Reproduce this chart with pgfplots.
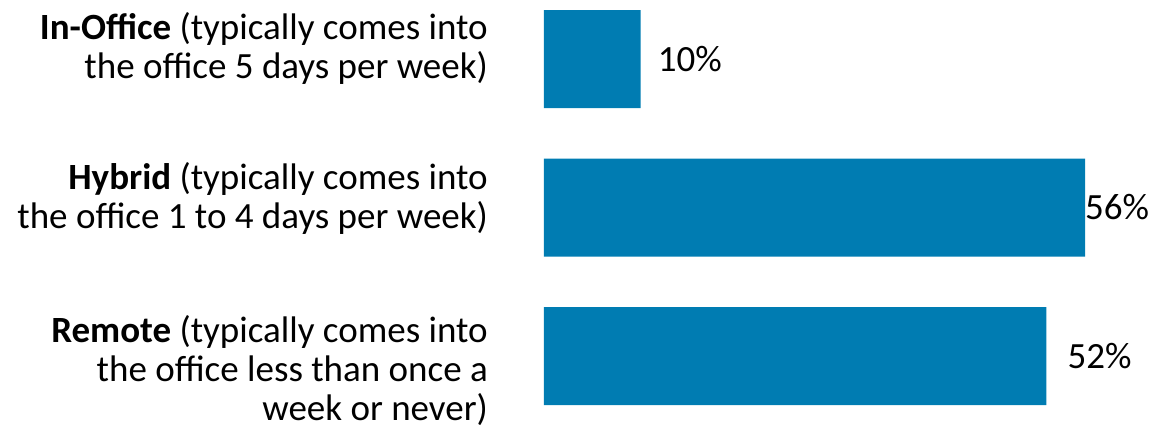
\documentclass[border=0pt]{standalone}
\usepackage{pgfplots}
\pgfplotsset{compat=1.18}
\usepackage{pgfplotstable}
\usepackage{fontspec}
\setmainfont{Carlito}
\definecolor{barblue}{HTML}{007CB2}
\pgfplotstableread{
y val off
0 52 21
1 56 0
2 10 17
}\datatable
\begin{document}
\begin{tikzpicture}
\path[use as bounding box] (0,0) rectangle (1173pt,432pt);
\begin{axis}[
  at={(544pt,31.45pt)}, anchor=south west,
  scale only axis, width=541pt, height=386.1pt,
  xmin=0, xmax=56, ymin=-0.3, ymax=2.3,
  clip=false,
  axis line style={draw=none},
  xtick=\empty,
  xbar, bar width=98pt,
  ytick={-0.095,1.062,2.074},
  yticklabels={
    {\textbf{Remote} (typically comes into\\the office less than once a\\week or never)},
    {\textbf{Hybrid} (typically comes into\\the office 1 to 4 days per week)},
    {\textbf{In-Office} (typically comes into\\the office 5 days per week)}},
  yticklabel style={align=right, anchor=east, inner sep=0pt, xshift=-56pt,
    font=\fontsize{37}{39}\selectfont},
  major tick length=0pt,
  /pgf/number format/assume math mode=true,
  nodes near coords={\pgfmathprintnumber{\pgfplotspointmeta}\%},
  point meta=x,
  visualization depends on={\thisrow{off} \as \off},
  every node near coord/.append style={anchor=west, inner sep=0pt, xshift=\off pt,
    font=\fontsize{37}{39}\selectfont, text=black},
]
\addplot[fill=barblue, draw=none] table[x=val, y=y] {\datatable};
\end{axis}
\end{tikzpicture}
\end{document}
